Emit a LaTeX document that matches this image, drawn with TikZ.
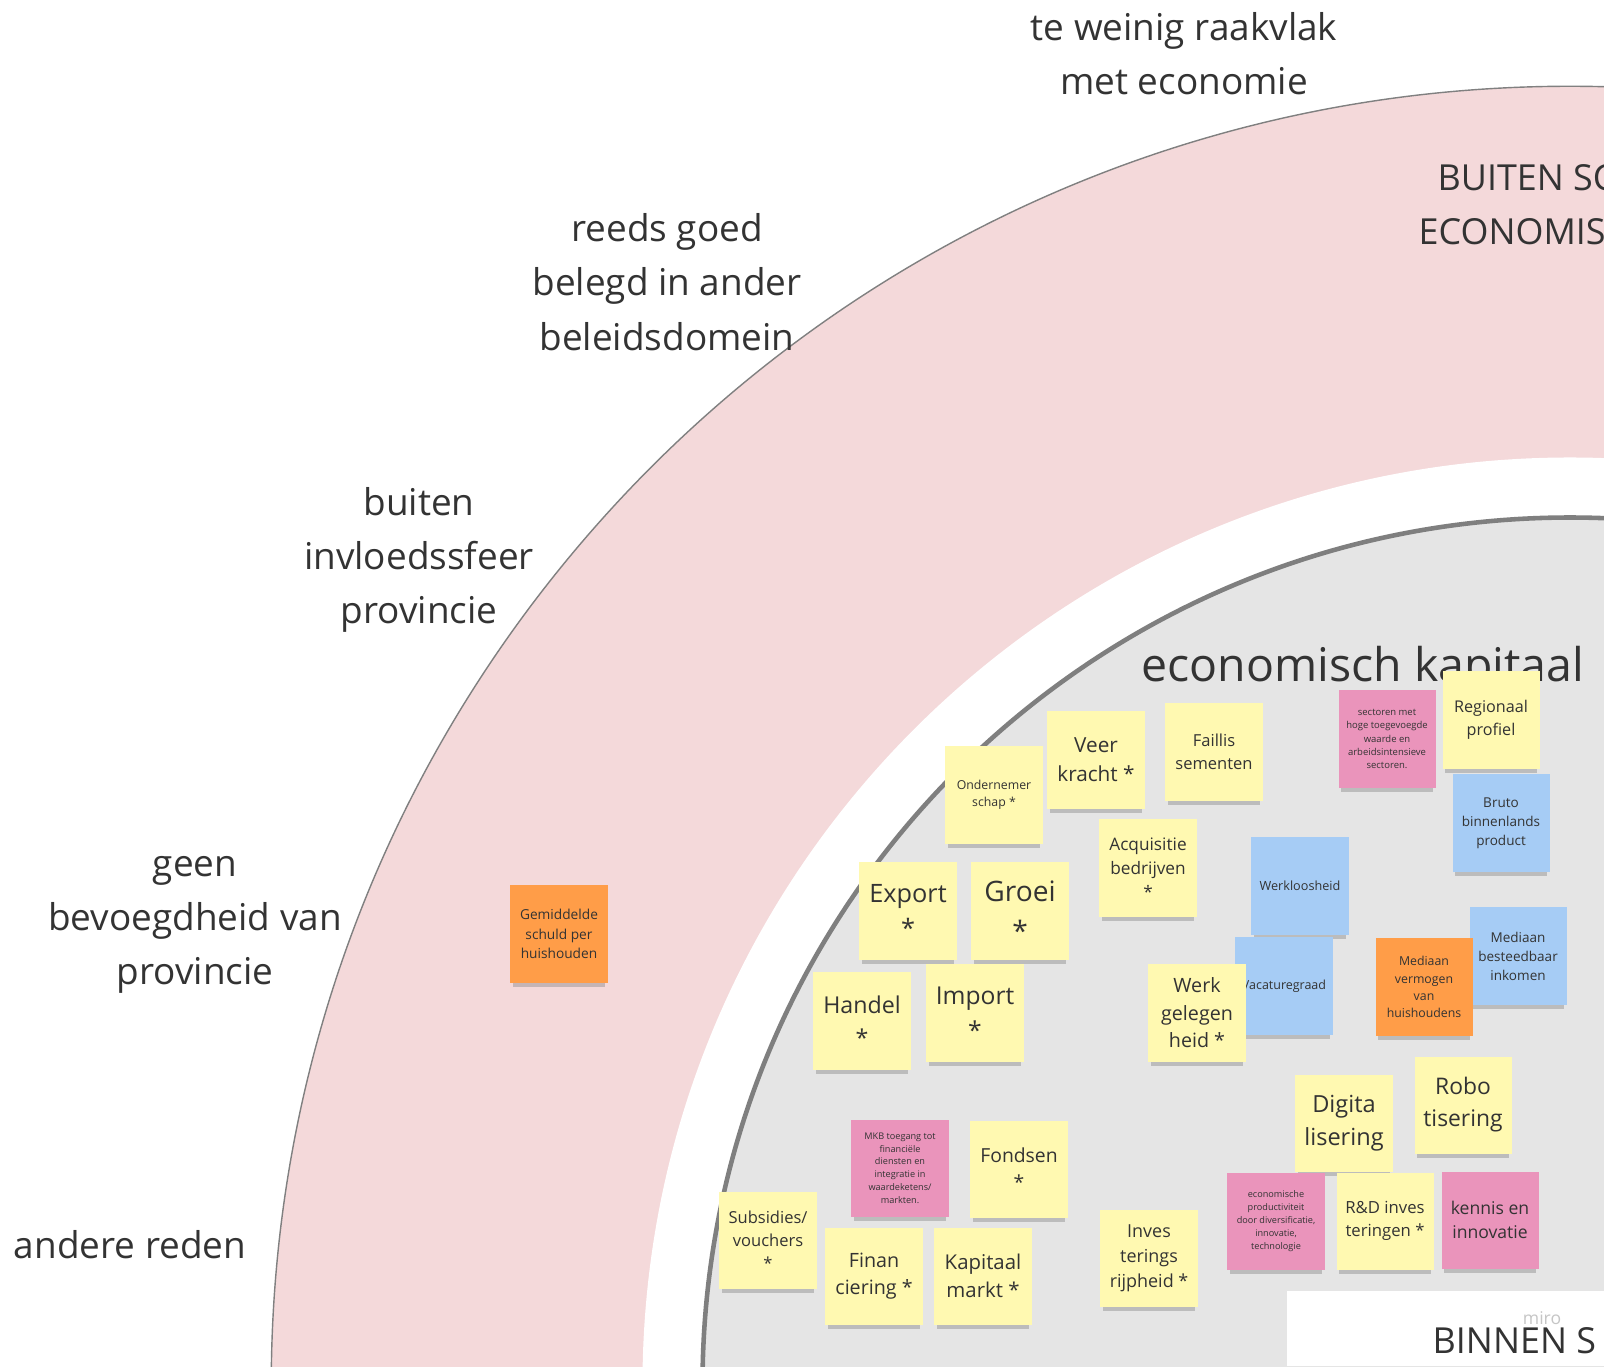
\documentclass[tikz,border=0pt]{standalone}
\usepackage{fontspec}
\setmainfont{Open Sans}
\usepackage{tikz}
\usetikzlibrary{shadows}
\definecolor{ringpink}{HTML}{F4D9DA}
\definecolor{kerngrey}{HTML}{E5E5E5}
\definecolor{randgrey}{HTML}{7F7F7F}
\definecolor{notegeel}{HTML}{FFF9B1}
\definecolor{noteroze}{HTML}{EA94BB}
\definecolor{noteblauw}{HTML}{A6CCF5}
\definecolor{noteoranje}{HTML}{FF9D48}
\definecolor{tekst}{HTML}{333333}
\newcommand{\fs}[1]{\fontsize{#1pt}{\dimexpr#1pt*14/10\relax}\selectfont}

\begin{document}
\begin{tikzpicture}[x=0.01cm,y=-0.01cm,
note/.style={minimum size=0.97cm,inner sep=0pt,align=center,text=tekst,
  drop shadow={shadow xshift=0pt,shadow yshift=-2pt,shadow scale=0.95,opacity=.4}},
geel/.style={note,fill=notegeel},
roze/.style={note,fill=noteroze},
blauw/.style={note,fill=noteblauw},
oranje/.style={note,fill=noteoranje},
lbl/.style={align=center,text=tekst,font=\fontsize{10.5pt}{15.4pt}\selectfont},
kop/.style={anchor=base west,inner sep=0pt,text=tekst,font=\fs{10.2}}]

\useasboundingbox (0,0) rectangle (1604,1366);
\clip (0,0) rectangle (1604,1366);
\fill[white] (0,0) rectangle (1604,1366);

% schillen
\coordinate (m) at (1570,1385);
\draw[fill=ringpink,draw=gray,line width=.4pt] (m) circle [radius=12.98cm];
\fill[white] (m) circle [radius=9.27cm];
\draw[fill=kerngrey,draw=randgrey,line width=1.3pt] (m) circle [radius=8.67cm];
\fill[white] (1287,1291) rectangle (1604,1366);

\node[lbl] (weinig) at (1184,54) {te weinig raakvlak\\met economie};
\node[lbl] (belegd) at (667,282) {reeds goed\\belegd in ander\\beleidsdomein};
\node[lbl] (invloed) at (419,560) {buiten\\invloedssfeer\\provincie};
\node[lbl] (bevoegd) at (195,925) {geen\\bevoegdheid van\\provincie};
\node[lbl] (anders) at (130,1245) {andere reden};

\node[kop] (buiten1) at (1437,190) {BUITEN SC};
\node[kop] (buiten2) at (1418,244) {ECONOMIS};
\node[kop] (binnen) at (1432,1353) {BINNEN S};
\node[text=gray!45,font=\fs{5}] (miro) at (1542,1318) {miro};
\node[kop,font=\fs{13.2}] (kapitaal) at (1141,681) {economisch kapitaal};

% notes
\node[oranje,font=\fs{3.9}] (schuld) at (559,934) {Gemiddelde\\schuld per\\huishouden};

\node[roze,font=\fs{2.7}] (sectoren) at (1387,739) {sectoren met\\hoge toegevoegde\\waarde en\\arbeidsintensieve\\sectoren.};
\node[geel,font=\fs{4.6}] (regio) at (1491,720) {Regionaal\\profiel};
\node[geel,font=\fs{4.7}] (faillis) at (1214,752) {Faillis\\sementen};
\node[geel,font=\fs{5.9}] (veer) at (1096,760) {Veer\\kracht *};
\node[geel,font=\fs{3.5}] (onder) at (994,795) {Ondernemer\\schap *};
\node[blauw,font=\fs{3.85}] (bbp) at (1501,823) {Bruto\\binnenlands\\product};
\node[geel,font=\fs{4.9}] (acq) at (1148,868) {Acquisitie\\bedrijven\\*};
\node[blauw,font=\fs{3.6}] (werkl) at (1300,886) {Werkloosheid};
\node[geel,font=\fs{7.2}] (export) at (908,911) {Export\\*};
\node[geel,font=\fs{8}] (groei) at (1020,911) {Groei\\*};
\node[blauw,font=\fs{3.85}] (inkomen) at (1518,956) {Mediaan\\besteedbaar\\inkomen};
\node[blauw,font=\fs{3.55}] (vacature) at (1284,986) {Vacaturegraad};
\node[oranje,font=\fs{3.5}] (vermogen) at (1424,987) {Mediaan\\vermogen\\van\\huishoudens};
\node[geel,font=\fs{5.6}] (werk) at (1197,1013) {Werk\\gelegen\\heid *};
\node[geel,font=\fs{7}] (import) at (975,1013) {Import\\*};
\node[geel,font=\fs{6.6}] (handel) at (862,1021) {Handel\\*};

\node[geel,font=\fs{6.5}] (robo) at (1463,1105) {Robo\\tisering};
\node[geel,font=\fs{6.7}] (digi) at (1344,1123) {Digita\\lisering};
\node[roze,font=\fs{2.6}] (mkb) at (900,1168) {MKB toegang tot\\financiële\\diensten en\\integratie in\\waardeketens/\\markten.};
\node[geel,font=\fs{5.5}] (fondsen) at (1019,1169) {Fondsen\\*};
\node[roze,font=\fs{2.6}] (product) at (1276,1221) {economische\\productiviteit\\door diversificatie,\\innovatie,\\technologie};
\node[geel,font=\fs{4.75}] (rd) at (1385,1221) {R\&D inves\\teringen *};
\node[roze,font=\fs{5}] (kennis) at (1490,1220) {kennis en\\innovatie};
\node[geel,font=\fs{4.7}] (subsidie) at (768,1240) {Subsidies/\\vouchers\\*};
\node[geel,font=\fs{5.1}] (rijp) at (1149,1258) {Inves\\terings\\rijpheid *};
\node[geel,font=\fs{5.6}] (finan) at (874,1276) {Finan\\ciering *};
\node[geel,font=\fs{5.8}] (kapmarkt) at (983,1276) {Kapitaal\\markt *};

\end{tikzpicture}
\end{document}
